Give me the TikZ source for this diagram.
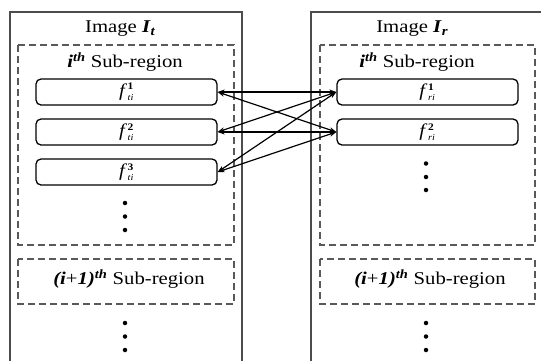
\documentclass[tikz,border=0pt]{standalone}
\usepackage{fontspec}
\setmainfont{Liberation Serif}[FakeStretch=1.15]
\usetikzlibrary{arrows.meta}
\tikzset{
  outerbox/.style={draw=black!70, line width=1.4pt},
  dashbox/.style={draw=black!65, line width=1.4pt, dash pattern=on 7pt off 4pt},
  featbox/.style={draw=black, line width=1.3pt, rounded corners=5pt, minimum width=181pt, minimum height=26pt, inner sep=0pt},
  title/.style={font=\fontsize{18}{21}\selectfont, inner sep=0pt},
  sub/.style={font=\fontsize{18}{21}\selectfont, inner sep=0pt},
  link/.style={line width=1.2pt, {Stealth[length=7pt,width=5pt]}-{Stealth[length=7pt,width=5pt]}},
  dot/.style={circle, fill=black, inner sep=0pt, minimum size=4.5pt}
}
\newcommand\flab[2]{\fontsize{18}{20}\selectfont\textit{f}\kern0.5pt$^{\mbox{\fontsize{10}{12}\selectfont\bfseries #1}}_{\mbox{\fontsize{9}{11}\selectfont\itshape #2}}$}
\begin{document}
\begin{tikzpicture}[x=1pt,y=-1pt]
\useasboundingbox (0,0) rectangle (541,360);
\clip (0,0) rectangle (541,360);
% outer boxes
\draw[outerbox] (10,365) -- (10,12) -- (242,12) -- (242,365);
\draw[outerbox] (311,365) -- (311,12) -- (548,12) -- (548,365);
\node[title] (tl) at (120,29) {Image \textbf{\textit{I}}\raisebox{-0.35ex}{\fontsize{13}{15}\selectfont\bfseries\itshape t}};
\node[title] (tr) at (412,29) {Image \textbf{\textit{I}}\raisebox{-0.35ex}{\fontsize{13}{15}\selectfont\bfseries\itshape r}};
% dashed sub-region boxes
\draw[dashbox] (18,45) rectangle (234,245);
\draw[dashbox] (320,45) rectangle (535,245);
\draw[dashbox] (18,259) rectangle (234,304);
\draw[dashbox] (320,259) rectangle (535,304);
\node[sub] (sl) at (125,62) {\textbf{\textit{i}}\textsuperscript{\textbf{\textit{th}}} Sub-region};
\node[sub] (sr) at (417,62) {\textbf{\textit{i}}\textsuperscript{\textbf{\textit{th}}} Sub-region};
\node[sub] (nl) at (129,279) {\textbf{\textit{(i}}+\textbf{\textit{1)}}\textsuperscript{\textbf{\textit{th}}} Sub-region};
\node[sub] (nr) at (430,279) {\textbf{\textit{(i}}+\textbf{\textit{1)}}\textsuperscript{\textbf{\textit{th}}} Sub-region};
% feature boxes
\node[featbox] (L1) at (126.5,92) {\flab{1}{ti}};
\node[featbox] (L2) at (126.5,132) {\flab{2}{ti}};
\node[featbox] (L3) at (126.5,172) {\flab{3}{ti}};
\node[featbox] (R1) at (427.5,92) {\flab{1}{ri}};
\node[featbox] (R2) at (427.5,132) {\flab{2}{ri}};
% links
\draw[link] (L1.east) -- (R1.west);
\draw[link] (L1.east) -- (R2.west);
\draw[link] (L2.east) -- (R1.west);
\draw[link] (L2.east) -- (R2.west);
\draw[link] (L3.east) -- (R1.west);
\draw[link] (L3.east) -- (R2.west);
% dots
\node[dot] (d1) at (125,203) {};
\node[dot] (d2) at (125,216.5) {};
\node[dot] (d3) at (125,230) {};
\node[dot] (e1) at (426,163.5) {};
\node[dot] (e2) at (426,177) {};
\node[dot] (e3) at (426,190) {};
\node[dot] (g1) at (125,323) {};
\node[dot] (g2) at (125,336.5) {};
\node[dot] (g3) at (125,350) {};
\node[dot] (h1) at (426,323) {};
\node[dot] (h2) at (426,336.5) {};
\node[dot] (h3) at (426,350) {};
\end{tikzpicture}
\end{document}
